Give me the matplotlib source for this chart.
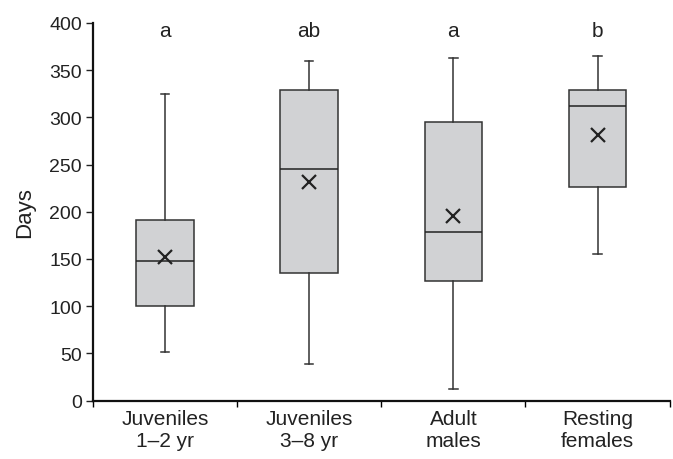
import matplotlib
matplotlib.use("Agg")
import matplotlib.pyplot as plt

# valores (días)
grupos = ["Juveniles\n1\u20132 yr", "Juveniles\n3\u20138 yr", "Adult\nmales", "Resting\nfemales"]
minimo = [51, 39, 12, 155]
q1 = [100, 135, 127, 226]
mediana = [148, 245, 179, 312]
q3 = [191, 329, 295, 329]
maximo = [325, 360, 363, 365]
media = [152, 231, 195, 281]
letras = ["a", "ab", "a", "b"]

plt.rcParams["font.family"] = ["Liberation Sans", "DejaVu Sans"]
plt.rcParams["font.size"] = 14

fig = plt.figure(figsize=(6.73, 4.6), dpi=100)
ax = fig.add_axes([0.138, 0.127, 0.857, 0.821])

stats = []
for i in range(len(grupos)):
    stats.append({"whislo": minimo[i], "q1": q1[i], "med": mediana[i],
                  "q3": q3[i], "whishi": maximo[i], "mean": media[i], "fliers": []})

pos = list(range(1, len(grupos) + 1))
ax.bxp(stats, positions=pos, widths=0.4, patch_artist=True, showmeans=True,
       boxprops=dict(facecolor="#d1d2d4", edgecolor="#333333", linewidth=1.1),
       medianprops=dict(color="#222222", linewidth=1.1),
       whiskerprops=dict(color="#333333", linewidth=1.1),
       capprops=dict(color="#333333", linewidth=1.1),
       capwidths=0.06,
       meanprops=dict(marker="x", markeredgecolor="#222222", markersize=10, markeredgewidth=1.6))

for p, l in zip(pos, letras):
    ax.text(p, 392, l, ha="center", va="center", fontsize=15, color="#222222")

ax.set_xlim(0.5, 4.5)
ax.set_ylim(0, 400)
ax.set_yticks(range(0, 401, 50))
ax.set_ylabel("Days", fontsize=16, labelpad=10, color="#222222")

# marcas entre categorías, etiquetas en el centro
ax.set_xticks([0.5, 1.5, 2.5, 3.5, 4.5])
ax.set_xticklabels([])
ax.set_xticks(pos, minor=True)
ax.set_xticklabels(grupos, minor=True, fontsize=15, linespacing=1.2)
ax.tick_params(axis="x", which="minor", length=0, pad=6, colors="#222222")
ax.tick_params(axis="x", which="major", length=4, width=1, direction="out")
ax.tick_params(axis="y", length=5, width=1, direction="out", colors="#222222", labelsize=14, pad=3)

for s in ["top", "right"]:
    ax.spines[s].set_visible(False)
for s in ["left", "bottom"]:
    ax.spines[s].set_linewidth(1.6)
    ax.spines[s].set_color("#111111")

fig.savefig("out.png", dpi=100)
